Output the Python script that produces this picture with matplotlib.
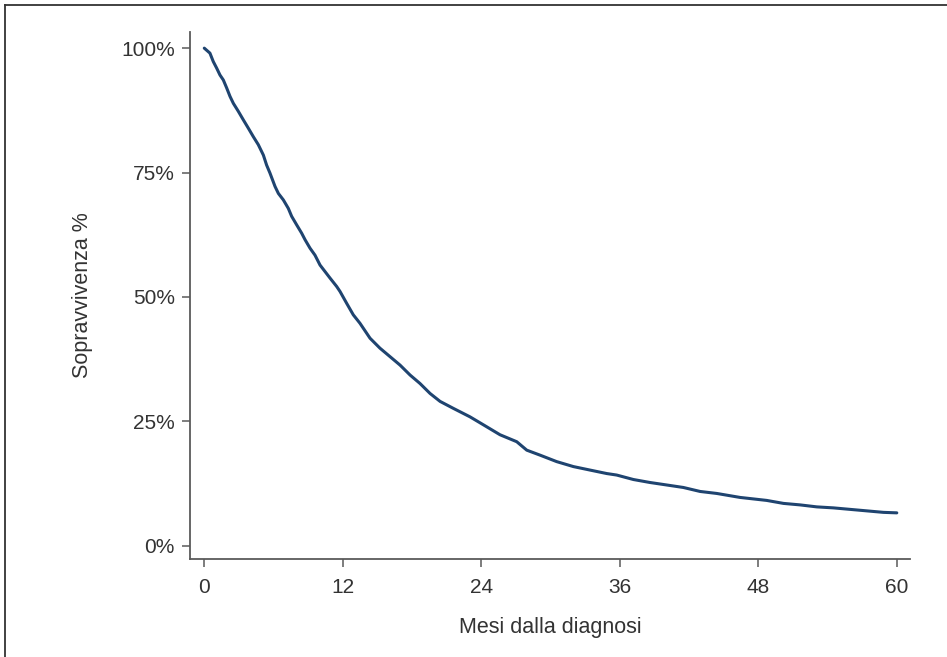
import matplotlib
matplotlib.use("Agg")
import matplotlib.pyplot as plt
from matplotlib.lines import Line2D
from matplotlib.ticker import FuncFormatter

plt.rcParams['font.family'] = ['Liberation Sans', 'DejaVu Sans']

# curve (months, survival %)
mesi = [0.0, 0.49, 0.78, 1.07, 1.36, 1.65, 1.94, 2.23, 2.52, 2.95, 3.38, 3.82,
        4.25, 4.68, 5.12, 5.40, 5.69, 6.13, 6.42, 6.85, 7.28, 7.57, 8.0, 8.44,
        8.73, 9.16, 9.59, 10.03, 10.46, 10.89, 11.47, 11.76, 12.34, 12.91,
        13.49, 14.36, 15.22, 16.09, 16.96, 17.83, 18.69, 19.56, 20.43, 21.58,
        23.02, 24.18, 25.62, 27.07, 27.94, 29.09, 30.53, 31.98, 33.42, 34.87,
        35.73, 37.18, 38.62, 40.07, 41.51, 42.96, 44.40, 46.42, 48.73, 50.18,
        51.62, 53.07, 54.51, 55.95, 57.40, 58.84, 60.0]
sopravvivenza = [100.0, 99.0, 97.3, 96.0, 94.6, 93.6, 92.0, 90.3, 88.9, 87.3,
                 85.6, 83.9, 82.2, 80.6, 78.5, 76.5, 74.9, 72.2, 70.8, 69.5,
                 67.8, 66.2, 64.5, 62.8, 61.5, 59.8, 58.4, 56.4, 55.1, 53.8,
                 52.1, 51.1, 48.7, 46.4, 44.7, 41.7, 39.7, 38.0, 36.3, 34.3,
                 32.6, 30.6, 29.0, 27.6, 25.9, 24.3, 22.3, 20.9, 19.2, 18.2,
                 16.9, 15.9, 15.2, 14.5, 14.2, 13.3, 12.7, 12.2, 11.7, 10.9,
                 10.5, 9.7, 9.1, 8.5, 8.2, 7.8, 7.6, 7.3, 7.0, 6.7, 6.6]

x_ticks = [0, 12, 24, 36, 48, 60]
y_ticks = [0, 25, 50, 75, 100]

fig = plt.figure(figsize=(9.47, 6.57), dpi=100)
ax = fig.add_axes([0.2006, 0.1492, 0.7604, 0.8025])

ax.plot(mesi, sopravvivenza, color='#1f4470', lw=2.2, solid_capstyle='round',
        solid_joinstyle='round')

ax.set_xlim(-1.24, 61.15)
ax.set_ylim(-2.67, 103.3)
ax.set_xticks(x_ticks)
ax.set_yticks(y_ticks)
ax.yaxis.set_major_formatter(FuncFormatter(lambda v, p: '%d%%' % v))

for s in ['top', 'right']:
    ax.spines[s].set_visible(False)
for s in ['left', 'bottom']:
    ax.spines[s].set_color('#5a5a5a')
    ax.spines[s].set_linewidth(1.3)

ax.tick_params(length=6, width=1.1, color='#5a5a5a', labelsize=15,
               labelcolor='#333333', pad=5)
ax.tick_params(axis='x', pad=8)

ax.set_xlabel('Mesi dalla diagnosi', fontsize=15.5, color='#333333', labelpad=14)
ax.set_ylabel('Sopravvivenza %', fontsize=15.5, color='#333333', labelpad=20)

# frame of the screenshot (left and top only)
fig.add_artist(Line2D([4.5 / 947, 4.5 / 947], [0, 1 - 4.5 / 657],
                      transform=fig.transFigure, color='#333333', lw=1.3))
fig.add_artist(Line2D([4.5 / 947, 1], [1 - 4.5 / 657, 1 - 4.5 / 657],
                      transform=fig.transFigure, color='#333333', lw=1.3))

fig.savefig('out.png', dpi=100)
